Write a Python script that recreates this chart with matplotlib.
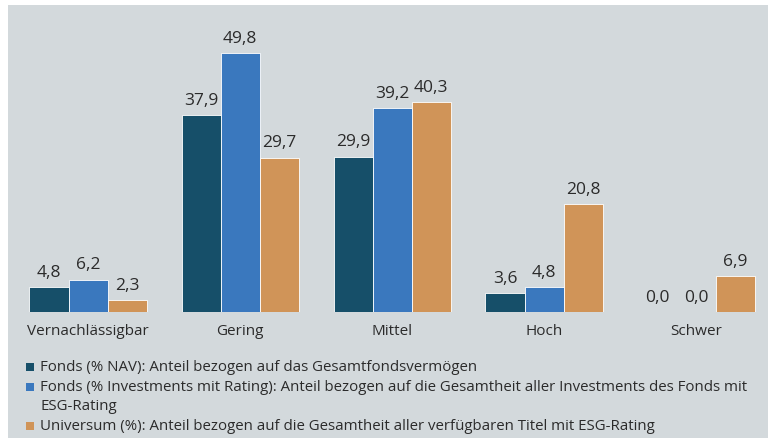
import matplotlib.pyplot as plt
from matplotlib.patches import Rectangle
import numpy as np

categories = ["Vernachlässigbar", "Gering", "Mittel", "Hoch", "Schwer"]
fonds_nav = [4.8, 37.9, 29.9, 3.6, 0.0]
fonds_rating = [6.2, 49.8, 39.2, 4.8, 0.0]
universum = [2.3, 29.7, 40.3, 20.8, 6.9]
legend_labels = [
    "Fonds (% NAV): Anteil bezogen auf das Gesamtfondsvermögen",
    "Fonds (% Investments mit Rating): Anteil bezogen auf die Gesamtheit aller Investments des Fonds mit\nESG-Rating",
    "Universum (%): Anteil bezogen auf die Gesamtheit aller verfügbaren Titel mit ESG-Rating",
]

colors = ["#164f69", "#3a78be", "#d09458"]
bg = "#d3d9dc"
plt.rcParams['font.family'] = ['Open Sans', 'DejaVu Sans']

W, H = 768, 439
fig = plt.figure(figsize=(W / 100, H / 100), dpi=100)
fig.patch.set_facecolor("white")
fig.patches.append(Rectangle((8 / W, 0), 1 - 8 / W, (H - 6) / H, transform=fig.transFigure,
                             facecolor=bg, edgecolor="none", zorder=-5))

ax = fig.add_axes([8 / W, 126 / H, 1 - 8 / W, (313 - 6) / H])
ax.set_facecolor("none")
ax.set_zorder(2)
ax.set_xlim(-80 / 152, 680 / 152)
ax.set_ylim(0, 307 / 5.2)

x = np.arange(len(categories))
bw = 39 / 152
for i, (vals, c) in enumerate(zip([fonds_nav, fonds_rating, universum], colors)):
    pos = x + (i - 1) * bw
    ax.bar(pos, vals, width=bw, color=c, edgecolor="white", linewidth=0.6)
    for p, v in zip(pos, vals):
        ax.text(p, v + 1.4, f"{v:.1f}".replace(".", ","), ha="center", va="bottom",
                fontsize=12.5, color="#2b2b2b")

for s in ax.spines.values():
    s.set_visible(False)
ax.set_yticks([])
ax.set_xticks(x)
ax.set_xticklabels(categories, fontsize=11, color="#2b2b2b")
ax.tick_params(axis="x", length=0, pad=8)

ys = [368, 388, 427]
for lab, c, y in zip(legend_labels, colors, ys):
    fig.patches.append(Rectangle((26 / W, (H - y - 4) / H), 8 / W, 8 / H,
                                 transform=fig.transFigure, facecolor=c, edgecolor="none"))
    fig.text(40 / W, (H - y + 8) / H, lab, ha="left", va="top", fontsize=10.8,
             color="#2b2b2b", linespacing=1.35)

fig.savefig("out.png", dpi=100)
